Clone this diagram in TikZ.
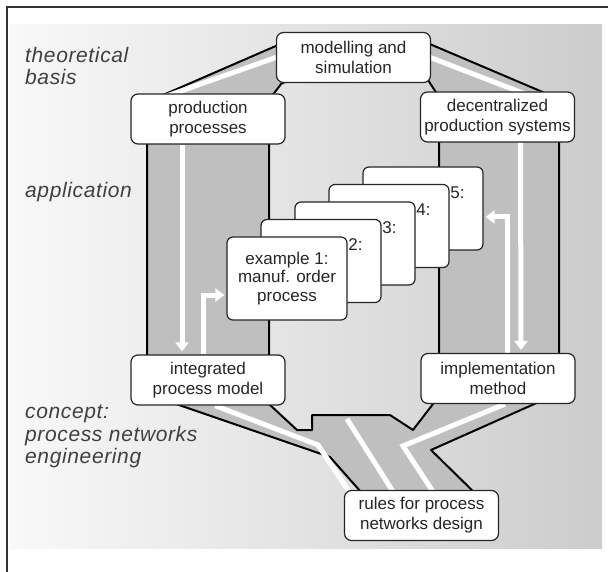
\documentclass[tikz,border=0pt]{standalone}
\usepackage{fontspec}
\setsansfont{Liberation Sans}
\newfontfamily\tierfamily[LetterSpace=3]{Liberation Sans}
\usetikzlibrary{arrows.meta,calc}

\pgfdeclarelayer{back}
\pgfdeclarelayer{pipe}
\pgfsetlayers{back,pipe,main}

\newcommand{\boxfont}{\sffamily\fontsize{17}{20}\selectfont}
\newcommand{\cardfont}{\sffamily\fontsize{17}{18.5}\selectfont}
\newcommand{\tierfont}{\tierfamily\itshape\fontsize{21}{22.5}\selectfont}

\begin{document}
\begin{tikzpicture}[
 x=1pt, y=-1pt,
 font=\sffamily,
 box/.style={draw=black!85, line width=1.2pt, fill=white, rounded corners=7pt,
   minimum width=154pt, minimum height=50pt, align=center, inner sep=2pt,
   font=\boxfont, text=black!85},
 card/.style={box, minimum width=120pt, minimum height=83pt, rounded corners=6pt,
   font=\cardfont},
 tag/.style={anchor=base, inner sep=0pt, font=\cardfont, text=black!85},
 tier/.style={anchor=north west, align=left, inner sep=0pt, font=\tierfont, text=black!75},
 pipe/.style={fill=gray!50, draw=black, line width=2pt, line join=round, even odd rule},
 flow/.style={draw=white, line width=5pt},
 flowtip/.style={flow, -{Triangle[width=13pt,length=9pt]}},
]
\useasboundingbox (0,0) rectangle (608,572);

% Levels
\node[tier] (basis) at (25,47) {theoretical\\basis};
\node[tier] (appl) at (25,182) {application};
\node[tier] (concept) at (25,405) {concept:\\process networks\\engineering};

% Boxes
\node[box] (model) at (353.5,57.5) {modelling and\\simulation};
\node[box] (prod) at (208,119) {production\\processes};
\node[box] (decen) at (497.5,117) {decentralized\\production systems};
\node[box] (integ) at (208,380) {integrated\\process model};
\node[box] (impl) at (498,378.5) {implementation\\method};
\node[box] (rules) at (421.5,515.5) {rules for process\\networks design};

% Examples
\foreach \i in {5,4,3,2} {
    \node[card] (ex\i) at ({287+34*(\i-1)}, {278.5-17.5*(\i-1)}) {};
    \node[tag] (tag\i) at ([yshift=-32pt]ex\i.north) {example \i:};
}
\node[card] (ex1) at (287,278.5) {example 1:\\manuf. order\\process};

% Background
\begin{pgfonlayer}{back}
\shade[left color=gray!5, right color=gray!40] (9,25) rectangle (602,548);
\draw[line width=1.5pt, black!80] (7,572) -- (7,7) -- (608,7);
\end{pgfonlayer}

% Ring of pipes
\coordinate (bendL) at (318,445);
\coordinate (bendR) at (403,446);
\coordinate (splitA) at (347,419);
\begin{pgfonlayer}{pipe}
\path[pipe] (147,102) -- (285,42) -- (425,42) -- (559,99) -- (559,393)
    -- (431,450) -- (482,500) -- (368,500) -- (330,457) -- (147,394) -- cycle
    (269,100) -- (281,84) -- (300,74) -- (410,74) -- (428,80) -- (439,97)
    -- (439,392) -- (433,404) -- (413,430) -- (390,415) -- (312,415)
    -- (312,430) -- (297,430) -- (269,404) -- cycle;

% Flows
\draw[flow] ([xshift=-48pt,yshift=-5pt]prod.north) -- ([xshift=14pt,yshift=5pt]model.west);
\draw[flow] ([xshift=-6pt,yshift=2pt]model.east) -- ([xshift=47pt,yshift=-10pt]decen.north);
\draw[flowtip] ([xshift=-26pt]prod.south) -- ([xshift=-26pt,yshift=3pt]integ.north);
\draw[flowtip] ([xshift=23pt]decen.south) -- ([xshift=23pt,yshift=3pt]impl.north);
\draw[flowtip] ([xshift=-5pt]integ.north) |- ([xshift=-2pt,yshift=-16.5pt]ex1.west);
\draw[flowtip] ([xshift=9pt]impl.north) |- ([xshift=2pt,yshift=-8.5pt]ex5.east);
\draw[flow] ([xshift=7pt]integ.south) -- (bendL) -- ([xshift=-71pt,yshift=-4pt]rules.north);
\draw[flow] (splitA) -- ([xshift=-27pt,yshift=-4pt]rules.north);
\draw[flow] ([xshift=7pt]impl.south) -- (bendR) -- ([xshift=13pt,yshift=-4pt]rules.north);
\end{pgfonlayer}

\end{tikzpicture}
\end{document}
